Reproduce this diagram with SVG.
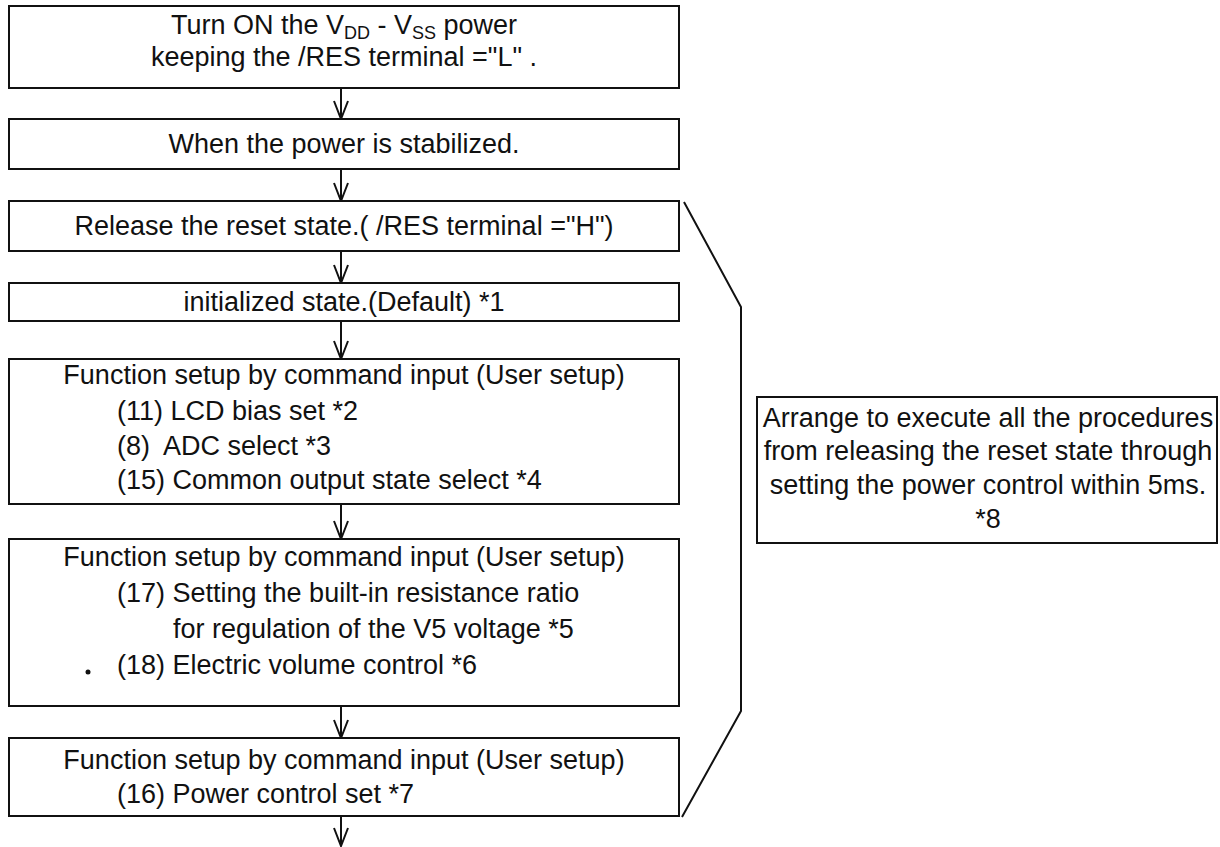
<svg xmlns="http://www.w3.org/2000/svg" width="1220" height="847" viewBox="0 0 1220 847">
<style>
.box{fill:#fff;stroke:#111;stroke-width:2}
.t{font-family:"Liberation Sans",Arial,sans-serif;font-size:27px;fill:#111}
.c{text-anchor:middle}
.sub{font-size:18px}
.line{fill:none;stroke:#111;stroke-width:2}
</style>
<defs>
<marker id="v" viewBox="-20 -10 22 20" refX="0" refY="0" markerWidth="22" markerHeight="20" markerUnits="userSpaceOnUse" orient="auto">
<path d="M-18,-7 L0,0 L-18,7" fill="none" stroke="#111" stroke-width="2"/>
</marker>
</defs>
<rect width="1220" height="847" fill="#fff"/>
<g id="connectors">
<line class="line" x1="341" y1="88" x2="341" y2="119" marker-end="url(#v)"/>
<line class="line" x1="341" y1="169" x2="341" y2="201" marker-end="url(#v)"/>
<line class="line" x1="341" y1="251" x2="341" y2="283" marker-end="url(#v)"/>
<line class="line" x1="341" y1="321" x2="341" y2="359" marker-end="url(#v)"/>
<line class="line" x1="341" y1="504" x2="341" y2="539" marker-end="url(#v)"/>
<line class="line" x1="341" y1="706" x2="341" y2="738" marker-end="url(#v)"/>
<line class="line" x1="341" y1="816" x2="341" y2="846" marker-end="url(#v)"/>
<polyline class="line" points="684,202 741,307 741,711 682,817"/>
</g>
<g id="n1">
<rect class="box" x="9" y="6" width="670" height="82"/>
<text class="t c" x="344" y="34">Turn ON the V<tspan class="sub" dy="5">DD</tspan><tspan dy="-5"> - V</tspan><tspan class="sub" dy="5">SS</tspan><tspan dy="-5"> power</tspan></text>
<text class="t c" x="344" y="66">keeping the /RES terminal ="L" .</text>
</g>
<g id="n2">
<rect class="box" x="9" y="119" width="670" height="50"/>
<text class="t c" x="344" y="153">When the power is stabilized.</text>
</g>
<g id="n3">
<rect class="box" x="9" y="201" width="670" height="50"/>
<text class="t c" x="344" y="235">Release the reset state.( /RES terminal ="H")</text>
</g>
<g id="n4">
<rect class="box" x="9" y="283" width="670" height="38"/>
<text class="t c" x="344" y="311">initialized state.(Default) *1</text>
</g>
<g id="n5">
<rect class="box" x="9" y="359" width="670" height="145"/>
<text class="t c" x="344" y="384">Function setup by command input (User setup)</text>
<text class="t" x="117" y="420">(11) LCD bias set *2</text>
<text class="t" x="117" y="455">(8)<tspan x="163">ADC select *3</tspan></text>
<text class="t" x="117" y="489">(15) Common output state select *4</text>
</g>
<g id="n6">
<rect class="box" x="9" y="539" width="670" height="167"/>
<text class="t c" x="344" y="566">Function setup by command input (User setup)</text>
<text class="t" x="117" y="602">(17) Setting the built-in resistance ratio</text>
<text class="t" x="173" y="638">for regulation of the V5 voltage *5</text>
<text class="t" x="117" y="674">(18) Electric volume control *6</text>
<circle cx="88" cy="672" r="2.5" fill="#111"/>
</g>
<g id="n7">
<rect class="box" x="9" y="738" width="670" height="78"/>
<text class="t c" x="344" y="769">Function setup by command input (User setup)</text>
<text class="t" x="117" y="803">(16) Power control set *7</text>
</g>
<g id="note">
<rect class="box" x="757" y="397" width="460" height="146"/>
<text class="t c" x="988" y="427">Arrange to execute all the procedures</text>
<text class="t c" x="988" y="460">from releasing the reset state through</text>
<text class="t c" x="988" y="494">setting the power control within 5ms.</text>
<text class="t c" x="988" y="528">*8</text>
</g>
</svg>
